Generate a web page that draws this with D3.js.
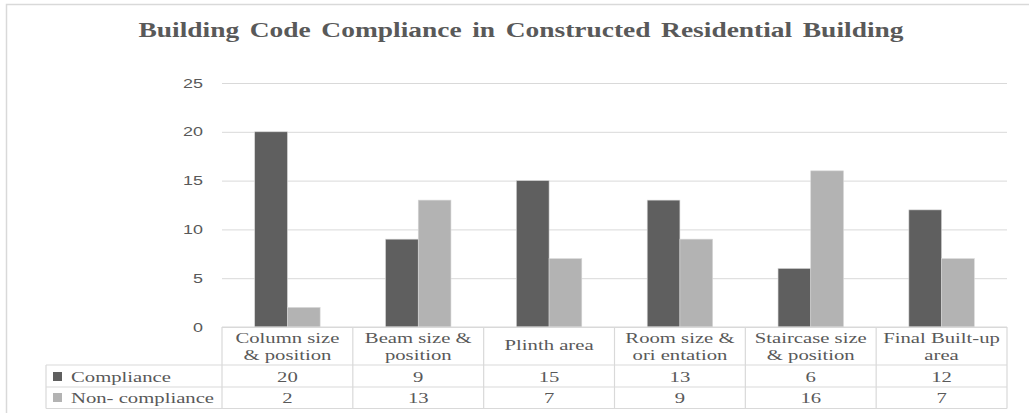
<!DOCTYPE html>
<html>
<head>
<meta charset="utf-8">
<script src="https://cdn.jsdelivr.net/npm/d3@7"></script>
<style>
  body { margin: 0; background: #fff; }
  svg { display: block; }
</style>
</head>
<body>
<div id="chart"></div>
<script>
// chart data
var categories = [
    ["Column size", "& position"],
    ["Beam size &", "position"],
    ["Plinth area"],
    ["Room size &", "ori entation"],
    ["Staircase size", "& position"],
    ["Final Built-up", "area"]
];
var seriesNames = ["Compliance", "Non- compliance"];
var compliance = [20, 9, 15, 13, 6, 12];
var nonCompliance = [2, 13, 7, 9, 16, 7];
var yTicks = [0, 5, 10, 15, 20, 25];

var colors = ["#5f5f5f", "#b3b3b3"];
var textColor = "#595959";
var lineColor = "#d9d9d9";
var stretch = 1.38;   // the source picture is widened horizontally

const W = 1029, H = 413;
const plot = {left: 222, right: 1007, top: 83, bottom: 327};
const rows = {head: 365, r1: 387, r2: 408.5};

var svg = d3.select("#chart").append("svg")
    .attr("width", W)
    .attr("height", H);

// outer chart border (top and left only are visible)
svg.append("path")
    .attr("d", "M6.5,413 L6.5,4.5 L1029,4.5")
    .attr("fill", "none")
    .attr("stroke", lineColor)
    .attr("stroke-width", 1.5);

// title
svg.append("text")
    .attr("x", 521)
    .attr("y", 37)
    .attr("text-anchor", "middle")
    .attr("textLength", 765)
    .attr("lengthAdjust", "spacingAndGlyphs")
    .style("font-family", "'Liberation Serif', 'Times New Roman', serif")
    .style("font-weight", "bold")
    .style("font-size", "22px")
    .style("word-spacing", "3px")
    .style("fill", textColor)
    .text("Building Code Compliance in Constructed Residential Building");

// scales
var xScale = d3.scaleBand()
    .domain(d3.range(categories.length))
    .range([plot.left, plot.right])
    .padding(0);

var xInner = d3.scaleBand()
    .domain(d3.range(seriesNames.length))
    .range([xScale.bandwidth() * 0.25, xScale.bandwidth() * 0.75])
    .padding(0);

var yScale = d3.scaleLinear()
    .domain([0, 25])
    .range([plot.bottom, plot.top]);

// y axis with gridlines
var yAxis = svg.append("g")
    .attr("transform", "translate(" + plot.left + ",0)")
    .call(d3.axisLeft(yScale)
        .tickValues(yTicks)
        .tickSizeInner(-(plot.right - plot.left))
        .tickSizeOuter(0)
        .tickPadding(19));

yAxis.select(".domain").remove();
yAxis.selectAll(".tick line")
    .attr("stroke", lineColor)
    .attr("stroke-width", 1);
yAxis.selectAll(".tick text")
    .attr("x", -19 / stretch)
    .attr("transform", "scale(" + stretch + ",1)")
    .style("font-family", "'Liberation Sans', Arial, sans-serif")
    .style("font-size", "13px")
    .style("fill", textColor);

// bars
var seriesData = [compliance, nonCompliance];
seriesData.forEach(function(values, s) {
    svg.append("g").selectAll("rect")
        .data(values)
        .enter().append("rect")
        .attr("x", (d, i) => xScale(i) + xInner(s))
        .attr("y", d => yScale(d))
        .attr("width", xInner.bandwidth())
        .attr("height", d => yScale(0) - yScale(d))
        .attr("fill", colors[s])
        .attr("stroke", "#d6d6d6")
        .attr("stroke-width", 0.6);
});

// data table lines
var grid = svg.append("g")
    .attr("stroke", lineColor)
    .attr("stroke-width", 1.2)
    .attr("fill", "none");

var boundaries = d3.range(categories.length + 1).map(i =>
    i < categories.length ? xScale(i) : plot.right);

grid.selectAll(".vline")
    .data(boundaries)
    .enter().append("line")
    .attr("x1", d => d).attr("x2", d => d)
    .attr("y1", plot.bottom).attr("y2", rows.r2);

grid.append("line")
    .attr("x1", 46).attr("x2", 46)
    .attr("y1", rows.head).attr("y2", rows.r2);

[rows.head, rows.r1, rows.r2].forEach(function(y) {
    grid.append("line")
        .attr("x1", 46).attr("x2", plot.right)
        .attr("y1", y).attr("y2", y);
});
grid.append("line")
    .attr("x1", plot.left).attr("x2", plot.right)
    .attr("y1", plot.bottom).attr("y2", plot.bottom);

function tableText(g, x, y, anchor, str) {
    return g.append("text")
        .attr("transform", "translate(" + x + "," + y + ") scale(" + stretch + ",1)")
        .attr("text-anchor", anchor)
        .style("font-family", "'Liberation Serif', 'Times New Roman', serif")
        .style("font-size", "15px")
        .style("fill", textColor)
        .text(str);
}

var table = svg.append("g");

// header: category names
categories.forEach(function(lines, i) {
    var cx = xScale(i) + xScale.bandwidth() / 2;
    if (lines.length === 1) {
        tableText(table, cx, 350, "middle", lines[0]);
    } else {
        tableText(table, cx, 343, "middle", lines[0]);
        tableText(table, cx, 360, "middle", lines[1]);
    }
});

// series rows
var rowBaselines = [381.5, 402.5];
seriesData.forEach(function(values, s) {
    table.append("rect")
        .attr("x", 53)
        .attr("y", rowBaselines[s] - 9.5)
        .attr("width", 9)
        .attr("height", 9)
        .attr("fill", colors[s]);
    tableText(table, 71, rowBaselines[s], "start", seriesNames[s]);
    values.forEach(function(v, i) {
        tableText(table, xScale(i) + xScale.bandwidth() / 2, rowBaselines[s], "middle", v);
    });
});
</script>
</body>
</html>
